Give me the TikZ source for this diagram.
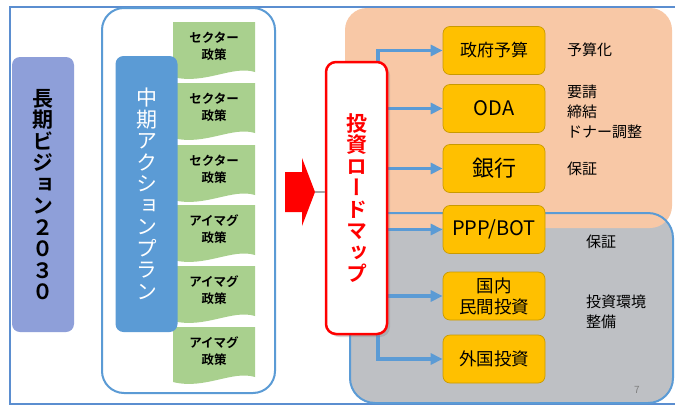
\documentclass[tikz,border=0pt]{standalone}
\usepackage{fontspec}
\setmainfont{Noto Sans CJK JP}[BoldFont={Noto Sans CJK JP Bold}]
\newfontfamily\jpv{Noto Sans CJK JP}[BoldFont={Noto Sans CJK JP Bold},RawFeature={+vert}]
\usetikzlibrary{arrows.meta,shadows}
\definecolor{frameblue}{HTML}{5B8ED0}
\definecolor{ablue}{HTML}{5B9BD5}
\definecolor{purp}{HTML}{8E9FD9}
\definecolor{docgreen}{HTML}{A9D08E}
\definecolor{peach}{HTML}{F8C8A6}
\definecolor{greyreg}{HTML}{BEC0C4}
\definecolor{yfill}{HTML}{FFC000}
\definecolor{yborder}{HTML}{C99A00}
\tikzset{
  vbox/.style={rounded corners=8pt, inner sep=0pt, align=center},
  vtext/.style={font=\jpv\fontsize{21}{21.5}\selectfont},
  vtextb/.style={font=\jpv\bfseries\fontsize{21}{21.5}\selectfont},
  ybox/.style={draw=yborder, fill=yfill, rounded corners=7pt, minimum width=102pt,
    minimum height=48pt, line width=0.7pt, align=center, inner sep=0pt},
  doctxt/.style={font=\bfseries\fontsize{12.5}{17}\selectfont, align=center, inner sep=0pt},
  arr/.style={draw=ablue, line width=3.5pt, -{Triangle[length=12pt,width=11pt]}},
  lbl/.style={font=\fontsize{15}{20}\selectfont, align=left, anchor=west, inner sep=0pt},
}
\begin{document}
\begin{tikzpicture}[x=1pt,y=-1pt]
\useasboundingbox (0,0) rectangle (675,410);
\clip (0,0) rectangle (675,410);
\fill[white] (0,0) rectangle (675,410);
% outer frame
\draw[frameblue, line width=1.5pt] (10,7) rectangle (700,404);
% long term vision
\node[vbox, vtextb, fill=purp, minimum width=62pt, minimum height=275pt] (lv) at (43,194.5)
  {長\\期\\ビ\\ジ\\ョ\\ン\\２\\０\\３\\０};
% big white container
\draw[ablue, line width=2pt, fill=white, rounded corners=22pt] (102,8) rectangle (275,393);
% documents
\foreach \i/\t/\txt in {1/22/セクター,2/83/セクター,3/145/セクター,4/205/アイマグ,5/266/アイマグ,6/327/アイマグ}{
  \fill[docgreen] (173,\t) -- (255,\t) -- (255,\t+50)
     .. controls (232,\t+43) and (205,\t+63) .. (173,\t+55) -- cycle;
  \node[doctxt] (doc\i) at (214,\t+24) {\txt\\政策};
}
% mid-term action plan
\node[vbox, vtext, fill=ablue, minimum width=62pt, minimum height=276pt, text=white] (mp) at (146.5,194)
  {中\\期\\ア\\ク\\シ\\ョ\\ン\\プ\\ラ\\ン};
% regions
\fill[greyreg, rounded corners=25pt] (350,213) rectangle (673,403);
\fill[peach, rounded corners=22pt] (345,8) rectangle (672,228);
\draw[ablue, line width=2pt, rounded corners=25pt] (350,213) rectangle (673,403);
% yellow boxes
\node[ybox, font=\fontsize{17}{20}\selectfont] (gb) at (494,50.5) {政府予算};
\node[ybox, font=\fontsize{20}{22}\selectfont] (oda) at (494,108.5) {ODA};
\node[ybox, font=\fontsize{22}{24}\selectfont] (bk) at (494,168.5) {銀行};
\node[ybox, font=\fontsize{20}{22}\selectfont] (ppp) at (494,229.5) {PPP/BOT};
\node[ybox, font=\fontsize{17.5}{21}\selectfont] (dom) at (494,296) {国内\\民間投資};
\node[ybox, font=\fontsize{17.5}{20}\selectfont] (fi) at (494,359) {外国投資};
% arrows from the roadmap
\coordinate (vx) at (378,0);
\coordinate (rmtop) at (378,61);
\coordinate (rmbot) at (378,335);
\draw[arr] (rmtop) |- (gb.west);
\draw[arr] (rmbot) |- (fi.west);
\draw[arr] (vx |- oda.west) -- (oda.west);
\draw[arr] (vx |- bk.west) -- (bk.west);
\draw[arr] (vx |- ppp.west) -- (ppp.west);
\draw[arr] (vx |- dom.west) -- (dom.west);
% red arrow
\fill[red] (285,172) -- (302,172) -- (302,158) -- (315,192) -- (302,226) -- (302,212) -- (285,212) -- cycle;
\coordinate (tip) at (315,192);
\node[vtextb, draw=red, line width=2.5pt, fill=white, rounded corners=10pt, minimum width=61pt,
  minimum height=272pt, inner sep=0pt, align=center, text=red,
  drop shadow={shadow xshift=3pt, shadow yshift=-3pt, opacity=0.3}] (rm) at (356.5,198)
  {投\\資\\ロ\\ー\\ド\\マ\\ッ\\プ};
\draw[gray!70, line width=2pt] (tip) -- (tip -| rm.west);
% labels
\node[lbl] (l1) at (567,50) {予算化};
\node[lbl] (l2) at (567,112) {要請\\締結\\ドナー調整};
\node[lbl] (l3) at (567,169) {保証};
\node[lbl] (l4) at (586,242) {保証};
\node[lbl] (l5) at (586,312) {投資環境\\整備};
\node[font=\fontsize{10}{12}\selectfont, text=gray] (pg) at (637,390) {7};
\end{tikzpicture}
\end{document}
